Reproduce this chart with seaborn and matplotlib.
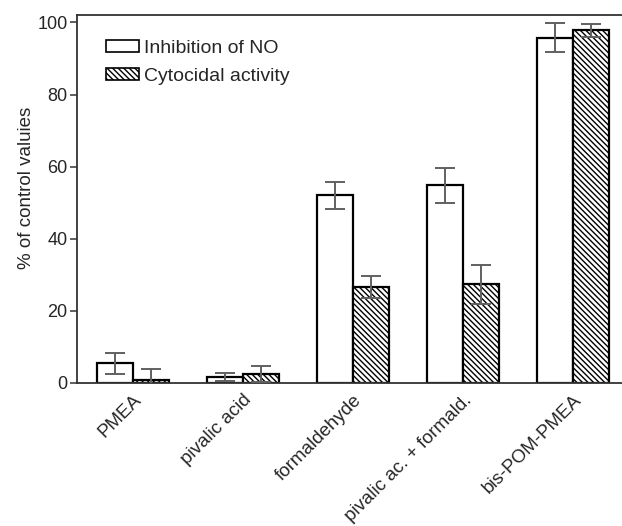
import numpy as np
import pandas as pd
import matplotlib
matplotlib.use("Agg")
import matplotlib.pyplot as plt
import seaborn as sns
from matplotlib.patches import Patch

categories = ["PMEA", "pivalic acid", "formaldehyde", "pivalic ac. + formald.", "bis-POM-PMEA"]
series_names = ["Inhibition of NO", "Cytocidal activity"]
no_values = [5.5, 1.7, 52.0, 54.8, 95.8]
no_errors = [2.9, 1.1, 3.7, 4.8, 4.0]
cyto_values = [0.8, 2.5, 26.6, 27.4, 97.8]
cyto_errors = [3.1, 2.2, 3.0, 5.4, 1.9]
y_ticks = [0, 20, 40, 60, 80, 100]

sns.set_theme(style="white")
plt.rcParams["font.family"] = ["Liberation Sans", "DejaVu Sans"]
plt.rcParams["hatch.linewidth"] = 1.0
plt.rcParams["hatch.color"] = "black"

df = pd.DataFrame({
    "category": categories * 2,
    "series": [series_names[0]] * len(categories) + [series_names[1]] * len(categories),
    "value": no_values + cyto_values,
})

fig = plt.figure(figsize=(6.22, 5.26), dpi=100)
ax = fig.add_axes([0.124, 0.272, 0.876, 0.699])

sns.barplot(data=df, x="category", y="value", hue="series", order=categories,
            hue_order=series_names, palette=["white", "white"], width=0.655,
            edgecolor="black", linewidth=1.6, errorbar=None, ax=ax, legend=False)

n = len(categories)
patches = [p for p in ax.patches if p.get_width() > 0][:2 * n]
for i, p in enumerate(patches):
    if i >= n:
        p.set_hatch("\\\\\\\\\\\\")

errs = no_errors + cyto_errors
vals = no_values + cyto_values
for p, v, e in zip(patches, vals, errs):
    xc = p.get_x() + p.get_width() / 2
    ax.errorbar(xc, v, yerr=e, fmt="none", ecolor="#606060", elinewidth=1.4,
                capsize=7, capthick=1.4, zorder=5)

ax.set_ylim(0, 102)
ax.set_xlim(-0.509, 4.445)
ax.set_yticks(y_ticks)
ax.set_yticklabels([str(t) for t in y_ticks], fontsize=13)
ax.set_ylabel("% of control valuies", fontsize=13.5)
ax.yaxis.set_label_coords(-0.077, 0.53)
ax.set_xlabel("")
ax.set_xticks(range(n))
ax.set_xticklabels(categories, rotation=45, ha="right", rotation_mode="anchor", fontsize=13.5)
ax.tick_params(axis="x", length=0, pad=6)
ax.tick_params(axis="y", length=5, width=1.2, color="#444444", direction="out", left=True, pad=2)

for side in ["left", "bottom", "top"]:
    ax.spines[side].set_visible(True)
    ax.spines[side].set_color("#333333")
    ax.spines[side].set_linewidth(1.3)
ax.spines["right"].set_visible(False)

handles = [Patch(facecolor="white", edgecolor="black", linewidth=1.2),
           Patch(facecolor="white", edgecolor="black", linewidth=1.2, hatch="\\\\\\\\\\\\")]
ax.legend(handles, series_names, loc="upper left", bbox_to_anchor=(0.038, 0.955),
          frameon=False, fontsize=14, handlelength=1.7, handleheight=0.6,
          handletextpad=0.25, labelspacing=0.58, borderaxespad=0)

fig.savefig("out.png", dpi=100)
